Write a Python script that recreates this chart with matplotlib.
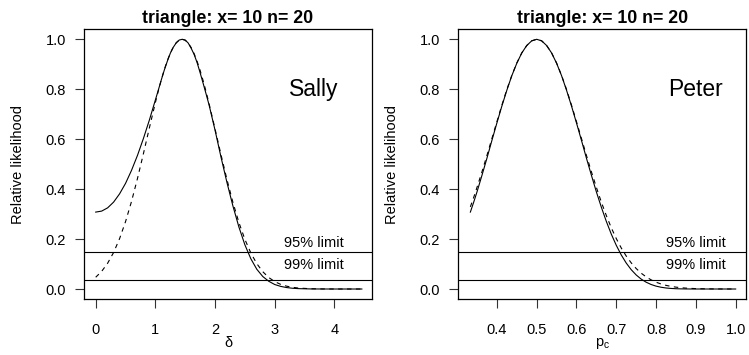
import matplotlib
matplotlib.use("Agg")
import matplotlib.pyplot as plt

plt.rcParams['font.family'] = ['Liberation Sans', 'DejaVu Sans']
plt.rcParams['mathtext.fontset'] = 'custom'
plt.rcParams['mathtext.rm'] = 'Liberation Sans'

title_txt = "triangle: x= 10 n= 20"
ylab = "Relative likelihood"
lim95 = 0.1465
lim99 = 0.0362

# Left panel: delta (d-prime)
delta = [0.0, 0.1, 0.2, 0.3, 0.4, 0.5, 0.6, 0.7, 0.8, 0.9, 1.0, 1.05, 1.1, 1.15,
         1.2, 1.25, 1.3, 1.35, 1.4, 1.45, 1.5, 1.55, 1.6, 1.65, 1.7, 1.75, 1.8,
         1.85, 1.9, 2.0, 2.1, 2.2, 2.3, 2.4, 2.5, 2.6, 2.7, 2.8, 2.9, 3.0, 3.1,
         3.2, 3.3, 3.4, 3.6, 3.8, 4.0, 4.2, 4.46]
delta_lik = [0.308, 0.312, 0.325, 0.348, 0.381, 0.423, 0.475, 0.535, 0.603, 0.677,
             0.757, 0.797, 0.838, 0.877, 0.912, 0.944, 0.968, 0.986, 0.997, 1.0,
             0.997, 0.985, 0.964, 0.939, 0.906, 0.866, 0.824, 0.781, 0.737, 0.636,
             0.528, 0.426, 0.332, 0.248, 0.177, 0.121, 0.079, 0.050, 0.031, 0.018,
             0.0105, 0.0058, 0.003, 0.0015, 0.0003, 0.00005, 0.0, 0.0, 0.0]
delta_approx = [0.047, 0.0707, 0.1032, 0.1463, 0.2016, 0.2698, 0.3505, 0.4424,
                0.5423, 0.6456, 0.7466, 0.794, 0.8384, 0.8788, 0.9144, 0.9446,
                0.9687, 0.9862, 0.9967, 1.0, 0.996, 0.9848, 0.9667, 0.942, 0.9112,
                0.8751, 0.8343, 0.7896, 0.7419, 0.6406, 0.5374, 0.4378, 0.3463,
                0.2662, 0.1987, 0.144, 0.1014, 0.0693, 0.046, 0.0297, 0.0185,
                0.0113, 0.0067, 0.0038, 0.00116, 0.0003, 0.00007, 0.00001, 0.0]

# Right panel: pc
pc = [0.3333, 0.3417, 0.35, 0.3625, 0.375, 0.3875, 0.4, 0.4125, 0.425, 0.4375,
      0.45, 0.4625, 0.475, 0.4875, 0.5, 0.5125, 0.525, 0.5375, 0.55, 0.5625,
      0.575, 0.5875, 0.6, 0.6125, 0.625, 0.6375, 0.65, 0.6625, 0.675, 0.6875,
      0.7, 0.7125, 0.725, 0.7375, 0.75, 0.7625, 0.775, 0.7875, 0.8, 0.8125,
      0.825, 0.8375, 0.85, 0.8625, 0.875, 0.8875, 0.9, 0.925, 0.95, 0.975, 1.0]
pc_lik = [0.308, 0.3477, 0.389, 0.4555, 0.524, 0.5953, 0.665, 0.7327, 0.796,
          0.8543, 0.904, 0.9452, 0.975, 0.9938, 1.0, 0.9938, 0.975, 0.9452, 0.904,
          0.8543, 0.796, 0.7327, 0.665, 0.5953, 0.524, 0.4555, 0.389, 0.3275,
          0.2707, 0.2197, 0.175, 0.1364, 0.104, 0.0775, 0.0563, 0.0398, 0.0273,
          0.0181, 0.0115, 0.00706, 0.00413, 0.00228, 0.00119, 0.00058, 0.00026,
          0.0001, 0.00004, 0.0, 0.0, 0.0, 0.0]
pc_approx = [0.329, 0.3668, 0.407, 0.4694, 0.535, 0.6028, 0.670, 0.7362, 0.799,
             0.8553, 0.905, 0.9453, 0.975, 0.9938, 1.0, 0.9938, 0.975, 0.9453,
             0.905, 0.8553, 0.799, 0.7362, 0.670, 0.6028, 0.535, 0.4694, 0.407,
             0.3478, 0.294, 0.2451, 0.202, 0.1643, 0.132, 0.1048, 0.0821, 0.0635,
             0.0486, 0.0367, 0.0273, 0.0201, 0.0146, 0.0105, 0.00745, 0.0052,
             0.0036, 0.00246, 0.00166, 0.00073, 0.0003, 0.00012, 0.000045]

yticks = [0.0, 0.2, 0.4, 0.6, 0.8, 1.0]
yticklabels = ["0.0", "0.2", "0.4", "0.6", "0.8", "1.0"]
xticks_left = [0, 1, 2, 3, 4]
xticks_right = [0.4, 0.5, 0.6, 0.7, 0.8, 0.9, 1.0]

fig = plt.figure(figsize=(7.49, 3.55), dpi=100)
axL = fig.add_axes([84 / 749, 56 / 355, 288 / 749, 269.7 / 355])
axR = fig.add_axes([458.3 / 749, 56 / 355, 287.7 / 749, 269.7 / 355])

fs = 10.5
lw = 0.8

def style(ax, xticks, xlim, xlab, label, labx):
    ax.set_ylim(-0.04, 1.04)
    ax.set_xlim(*xlim)
    ax.set_yticks(yticks)
    ax.set_yticklabels(yticklabels)
    ax.set_xticks(xticks)
    ax.set_xticklabels([str(t) for t in xticks])
    ax.tick_params(axis='both', direction='out', length=6.5, width=0.8,
                   labelsize=fs, color='#333333')
    ax.tick_params(axis='x', pad=10.5)
    ax.tick_params(axis='y', pad=6.5)
    for s in ax.spines.values():
        s.set_linewidth(0.9)
    ax.axhline(lim95, color='black', lw=lw)
    ax.axhline(lim99, color='black', lw=lw)
    ax.text(labx, 0.186, "95% limit", fontsize=fs, ha='center', va='center')
    ax.text(labx, 0.096, "99% limit", fontsize=fs, ha='center', va='center')
    ax.text(labx, 0.80, label, fontsize=16.5, ha='center', va='center')
    ax.set_title(title_txt, fontsize=12.8, fontweight='bold', pad=4.5)
    ax.set_ylabel(ylab, fontsize=fs)
    ax.yaxis.set_label_coords(-0.205, 0.5)
    ax.set_xlabel(xlab, fontsize=fs, va='top')
    ax.xaxis.set_label_coords(0.5, -0.138)

axL.plot(delta, delta_lik, color='black', lw=lw)
axL.plot(delta, delta_approx, color='black', lw=lw, dashes=(4, 4))
style(axL, xticks_left, (-0.196, 4.63), "δ", "Sally", 3.66)

axR.plot(pc, pc_lik, color='black', lw=lw)
axR.plot(pc, pc_approx, color='black', lw=lw, dashes=(4, 4))
style(axR, xticks_right, (0.303, 1.026), r"p$_\mathregular{c}$", "Peter", 0.9)

fig.savefig("out.png", dpi=100)
